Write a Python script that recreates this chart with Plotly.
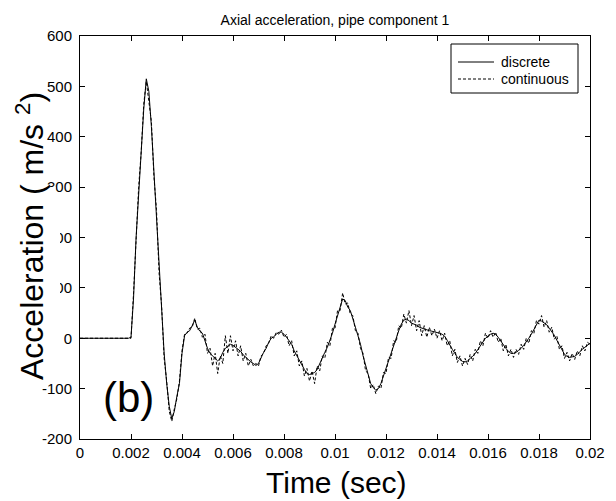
import plotly.graph_objects as go

# ---------------- data ----------------
time_tenth_ms = [0, 19,
    20, 21, 22, 23, 24, 25, 26, 27, 28, 29,
    30, 31, 32, 33, 34, 35, 36, 37, 38, 39,
    40, 41, 42, 43, 44, 45, 46, 47, 48, 49,
    50, 51, 52, 53, 54, 55, 56, 57, 58, 59,
    60, 61, 62, 63, 64, 65, 66, 67, 68, 69,
    70, 71, 72, 73, 74, 75, 76, 77, 78, 79,
    80, 81, 82, 83, 84, 85, 86, 87, 88, 89,
    90, 91, 92, 93, 94, 95, 96, 97, 98, 99,
    100, 101, 102, 103, 104, 105, 106, 107, 108, 109,
    110, 111, 112, 113, 114, 115, 116, 117, 118, 119,
    120, 121, 122, 123, 124, 125, 126, 127, 128, 129,
    130, 131, 132, 133, 134, 135, 136, 137, 138, 139,
    140, 141, 142, 143, 144, 145, 146, 147, 148, 149,
    150, 151, 152, 153, 154, 155, 156, 157, 158, 159,
    160, 161, 162, 163, 164, 165, 166, 167, 168, 169,
    170, 171, 172, 173, 174, 175, 176, 177, 178, 179,
    180, 181, 182, 183, 184, 185, 186, 187, 188, 189,
    190, 191, 192, 193, 194, 195, 196, 197, 198, 199,
    200]

discrete = [0, 0,
    2, 80, 200, 290, 380, 455, 515, 490, 420, 330,
    250, 140, 60, -30, -90, -135, -160, -145, -115, -90,
    -30, 5, 12, 15, 25, 36, 22, 14, 10, -5,
    -20, -30, -35, -40, -45, -40, -28, -20, -15, -12,
    -14, -18, -22, -26, -33, -38, -42, -47, -50, -54,
    -50, -38, -28, -20, -8, 0, 3, 8, 12, 12,
    8, 2, -5, -12, -25, -35, -45, -55, -62, -70,
    -72, -70, -68, -62, -50, -40, -28, -18, -5, 10,
    28, 45, 62, 78, 75, 62, 55, 40, 22, 5,
    -12, -35, -55, -75, -90, -98, -103, -100, -90, -75,
    -60, -45, -30, -12, 2, 15, 28, 36, 38, 35,
    30, 28, 26, 22, 20, 18, 16, 15, 14, 13,
    12, 10, 8, 4, -4, -14, -22, -30, -38, -42,
    -46, -47, -45, -40, -36, -30, -22, -14, -6, 0,
    4, 8, 10, 8, 2, -6, -14, -20, -26, -30,
    -30, -28, -24, -20, -14, -8, 0, 8, 18, 28,
    36, 34, 30, 27, 20, 14, 6, -4, -14, -24,
    -32, -36, -38, -37, -36, -32, -26, -22, -18, -14,
    -10]

continuous = [0, 0,
    0, 90, 190, 300, 370, 465, 510, 470, 430, 320,
    255, 130, 65, -40, -85, -145, -165, -140, -120, -85,
    -25, 8, 10, 20, 22, 40, 18, 20, 2, 8,
    -30, -20, -55, -30, -70, -35, -50, 5, -30, 5,
    -25, -5, -35, -15, -45, -30, -55, -42, -55, -50,
    -55, -35, -30, -15, -10, 5, 0, 12, 8, 16,
    2, 8, -15, -5, -35, -25, -55, -45, -75, -60,
    -85, -65, -90, -55, -65, -35, -40, -8, -15, 20,
    20, 55, 55, 90, 68, 70, 48, 45, 15, 10,
    -20, -30, -65, -70, -100, -92, -110, -95, -100, -68,
    -70, -38, -40, -5, -8, 25, 20, 48, 30, 55,
    25, 45, 15, 35, 5, 25, 2, 22, 5, 18,
    0, 15, -5, 10, -15, -5, -35, -22, -48, -35,
    -55, -40, -52, -32, -45, -22, -30, -5, -15, 10,
    0, 15, 2, 12, -8, 0, -25, -12, -35, -22,
    -38, -22, -32, -12, -22, 0, -10, 15, 10, 35,
    28, 45, 22, 35, 12, 22, -2, 5, -22, -15,
    -40, -28, -45, -30, -42, -25, -35, -15, -25, -8,
    -12]

series_names = ["discrete", "continuous"]
x_tickvals = [0, 0.002, 0.004, 0.006, 0.008, 0.01, 0.012, 0.014, 0.016, 0.018, 0.02]
x_ticktext = ["0", "0.002", "0.004", "0.006", "0.008", "0.01", "0.012", "0.014", "0.016", "0.018", "0.02"]
y_tickvals = [-200, -100, 0, 100, 200, 300, 400, 500, 600]
y_ticktext = ["-200", "-100", "0", "100", "200", "300", "400", "500", "600"]

time_s = [v / 10000 for v in time_tenth_ms]

# ---------------- layout geometry ----------------
W, H = 616, 501
ML, MR, MT, MB = 80, 26, 36, 62
PW, PH = W - ML - MR, H - MT - MB
FONT = "Liberation Sans, Arial, Helvetica, sans-serif"

def px_x(px):
    return (px - ML) / PW

def px_y(py):
    return (H - MB - py) / PH

DASH = "3px,2px"

fig = go.Figure()
fig.add_trace(go.Scatter(x=time_s, y=discrete, mode="lines", name=series_names[0],
                         line=dict(color="black", width=1), showlegend=False))
fig.add_trace(go.Scatter(x=time_s, y=continuous, mode="lines", name=series_names[1],
                         line=dict(color="black", width=1, dash=DASH), showlegend=False))

axis_common = dict(showline=True, linecolor="black", linewidth=1, mirror="ticks",
                   ticks="inside", ticklen=5, tickcolor="black", showgrid=False,
                   zeroline=False, tickfont=dict(family=FONT, size=15, color="black"))

fig.update_xaxes(range=[0, 0.02], tickvals=x_tickvals, ticktext=x_ticktext, **axis_common)
fig.update_yaxes(range=[-200, 600], tickvals=y_tickvals, ticktext=y_ticktext,
                 ticklabelstandoff=4, **axis_common)

fig.update_layout(
    width=W, height=H,
    margin=dict(l=ML, r=MR, t=MT, b=MB, pad=0),
    paper_bgcolor="white", plot_bgcolor="white",
    font=dict(family=FONT, color="black"),
    title=dict(text="Axial acceleration, pipe component 1",
               x=(ML + PW / 2) / W, xanchor="center",
               y=1 - 20 / H, yanchor="middle",
               font=dict(family=FONT, size=14, color="black")),
    showlegend=False,
)

# ---- legend box (drawn like the MATLAB legend) ----
LEG_L, LEG_R, LEG_T, LEG_B = 451, 578, 44, 93
fig.add_shape(type="rect", xref="paper", yref="paper", layer="above",
              x0=px_x(LEG_L), x1=px_x(LEG_R), y0=px_y(LEG_B), y1=px_y(LEG_T),
              fillcolor="white", line=dict(color="black", width=1))
entry_y = [62, 79]
entry_dash = ["solid", DASH]
for name, ey, dsh in zip(series_names, entry_y, entry_dash):
    fig.add_shape(type="line", xref="paper", yref="paper", layer="above",
                  x0=px_x(458), x1=px_x(494), y0=px_y(ey), y1=px_y(ey),
                  line=dict(color="black", width=1, dash=dsh))
    fig.add_annotation(text=name, xref="paper", yref="paper",
                       x=px_x(499), y=px_y(ey), showarrow=False,
                       xanchor="left", yanchor="middle",
                       font=dict(family=FONT, size=14, color="black"))

# white boxes hiding parts of some y tick labels (as in the reference)
fig.add_shape(type="rect", xref="paper", yref="paper", layer="above",
              x0=px_x(40), x1=px_x(55.5), y0=px_y(236), y1=px_y(187),
              fillcolor="white", line=dict(width=0))
fig.add_shape(type="rect", xref="paper", yref="paper", layer="above",
              x0=px_x(40), x1=px_x(60), y0=px_y(300), y1=px_y(228),
              fillcolor="white", line=dict(width=0))

fig.add_annotation(text="Acceleration ( m/s <sup>2</sup>)", xref="paper", yref="paper",
                   x=px_x(30), y=px_y(236), textangle=-90, showarrow=False,
                   xanchor="center", yanchor="middle",
                   font=dict(family=FONT, size=32, color="black"))
fig.add_annotation(text="Time (sec)", xref="paper", yref="paper",
                   x=px_x(336), y=px_y(482), showarrow=False,
                   xanchor="center", yanchor="middle",
                   font=dict(family=FONT, size=30, color="black"))
fig.add_annotation(text="(b)", xref="paper", yref="paper",
                   x=px_x(128), y=px_y(397), showarrow=False,
                   xanchor="center", yanchor="middle",
                   font=dict(family=FONT, size=42, color="black"))

fig.write_html("out.html")
